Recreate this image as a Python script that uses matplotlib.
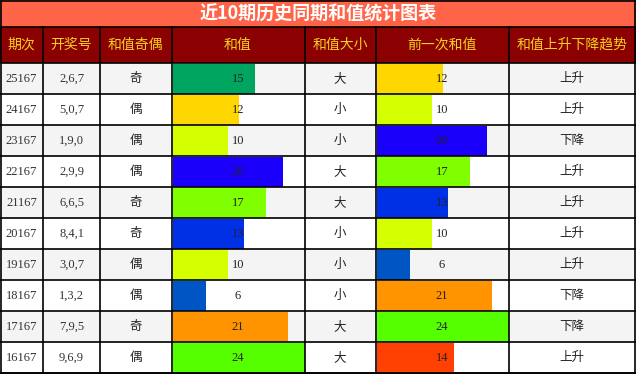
import matplotlib
matplotlib.use("Agg")
import matplotlib.pyplot as plt
from matplotlib.patches import Rectangle

plt.rcParams['font.family'] = ['Noto Sans CJK SC', 'DejaVu Sans']

title = "近10期历史同期和值统计图表"
headers = ["期次", "开奖号", "和值奇偶", "和值", "和值大小", "前一次和值", "和值上升下降趋势"]
periods = ["25167", "24167", "23167", "22167", "21167", "20167", "19167", "18167", "17167", "16167"]
numbers = ["2,6,7", "5,0,7", "1,9,0", "2,9,9", "6,6,5", "8,4,1", "3,0,7", "1,3,2", "7,9,5", "9,6,9"]
parity = ["奇", "偶", "偶", "偶", "奇", "奇", "偶", "偶", "奇", "偶"]
sums = [15, 12, 10, 20, 17, 13, 10, 6, 21, 24]
size = ["大", "小", "小", "大", "大", "小", "小", "小", "大", "大"]
prev_sums = [12, 10, 20, 17, 13, 10, 6, 21, 24, 14]
trend = ["上升", "上升", "下降", "上升", "上升", "上升", "上升", "下降", "下降", "上升"]
value_colors = {15: "#00a660", 12: "#ffd700", 10: "#d4ff00", 20: "#1a00fa",
                17: "#7fff00", 13: "#0030e6", 6: "#0055c4", 21: "#ff9400",
                24: "#55ff00", 14: "#ff4000"}
max_val = 24

W, H = 636, 374
fig = plt.figure(figsize=(W / 100, H / 100), dpi=100)
ax = fig.add_axes([0, 0, 1, 1])
ax.set_xlim(0, W)
ax.set_ylim(H, 0)
ax.axis('off')

cols = [0, 43, 100, 171.5, 304.5, 375.5, 508.5, 636]
title_h = 27
head_top, head_bot = 27, 63
row_h = 31

# title
ax.add_patch(Rectangle((0, 0), W, title_h, facecolor="#ff6448", edgecolor="none"))
ax.text(W / 2, title_h / 2 + 0.5, title, ha='center', va='center', color='white',
        fontsize=13, fontweight='bold')

# header
ax.add_patch(Rectangle((0, head_top), W, head_bot - head_top, facecolor="#8b0000", edgecolor="none"))
for i, h in enumerate(headers):
    ax.text((cols[i] + cols[i + 1]) / 2, (head_top + head_bot) / 2, h, ha='center', va='center',
            color="#f7d21c", fontsize=10)

serif = ['Liberation Serif', 'DejaVu Serif']
for r in range(len(periods)):
    y0 = head_bot + r * row_h
    yc = y0 + row_h / 2
    bg = "#f4f4f4" if r % 2 == 0 else "white"
    ax.add_patch(Rectangle((0, y0), W, row_h, facecolor=bg, edgecolor="none"))
    # bars
    for ci, val in ((3, sums[r]), (5, prev_sums[r])):
        x0, x1 = cols[ci] + 1, cols[ci + 1]
        ax.barh(yc, val / max_val * (x1 - x0), left=x0, height=row_h - 1,
                color=value_colors[val], edgecolor='none')
        ax.text((cols[ci] + cols[ci + 1]) / 2, yc + 0.5, str(val), ha='center', va='center',
                color='#222222', fontsize=9, family=serif)
    ax.text((cols[0] + cols[1]) / 2, yc + 0.5, periods[r], ha='center', va='center',
            color='#333333', fontsize=9, family=serif)
    ax.text((cols[1] + cols[2]) / 2, yc + 0.5, numbers[r], ha='center', va='center',
            color='#333333', fontsize=9, family=serif)
    ax.text((cols[2] + cols[3]) / 2, yc, parity[r], ha='center', va='center',
            color='#222222', fontsize=9)
    ax.text((cols[4] + cols[5]) / 2, yc, size[r], ha='center', va='center',
            color='#222222', fontsize=9)
    ax.text((cols[6] + cols[7]) / 2, yc, trend[r], ha='center', va='center',
            color='#222222', fontsize=9)

# grid lines
lw = 1.2
for r in range(len(periods) + 1):
    y = head_bot + r * row_h
    ax.plot([0, W], [y, y], color='black', lw=lw, solid_capstyle='butt')
ax.plot([0, W], [head_top, head_top], color='black', lw=lw)
ax.plot([0, W], [0.5, 0.5], color='black', lw=lw)
for x in cols[1:-1]:
    ax.plot([x, x], [head_top, H], color='black', lw=lw)
ax.plot([0.6, 0.6], [0, H], color='black', lw=lw)
ax.plot([W - 0.6, W - 0.6], [0, H], color='black', lw=lw)
ax.plot([0, W], [H - 0.6, H - 0.6], color='black', lw=lw)

fig.savefig("out.png", dpi=100)
